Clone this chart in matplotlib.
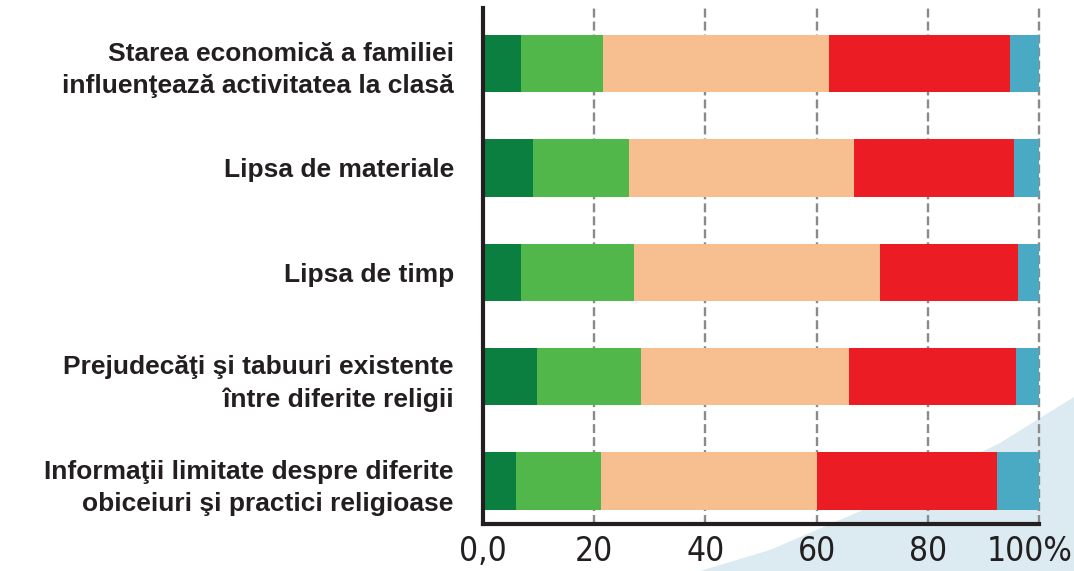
import matplotlib
matplotlib.use("Agg")
import matplotlib.pyplot as plt
import matplotlib.transforms as mtransforms
from matplotlib.patches import Polygon
import numpy as np

# Survey items (top to bottom)
categories = [
    "Starea economică a familiei\ninfluenţează activitatea la clasă",
    "Lipsa de materiale",
    "Lipsa de timp",
    "Prejudecăţi şi tabuuri existente\nîntre diferite religii",
    "Informaţii limitate despre diferite\nobiceiuri şi practici religioase",
]

# Share of answers per response level (%), one list per level
level_1 = [6.9, 9.0, 6.8, 9.8, 6.0]
level_2 = [14.7, 17.2, 20.3, 18.6, 15.2]
level_3 = [40.6, 40.6, 44.3, 37.5, 38.8]
level_4 = [32.5, 28.7, 24.8, 30.0, 32.5]
level_5 = [5.3, 4.5, 3.8, 4.1, 7.5]

x_ticks = [0, 20, 40, 60, 80, 100]
x_tick_labels = ["0,0", "20", "40", "60", "80", "100%"]

series = [level_1, level_2, level_3, level_4, level_5]
colors = ["#0A7F40", "#52B74A", "#F7BF8F", "#EC1C24", "#4AAAC4"]

W, H = 1074, 571
fig = plt.figure(figsize=(W / 100, H / 100), dpi=100)

# Light background swoosh in the lower right corner (figure pixel coords)
swoosh_px = [(700, 571), (770, 550), (870, 507), (1000, 443), (1074, 397), (1074, 571)]
swoosh = Polygon([(x / W, 1 - y / H) for x, y in swoosh_px], closed=True,
                 transform=fig.transFigure, facecolor="#DCEAF2", edgecolor="none",
                 zorder=-5)
fig.patches.append(swoosh)

left, right = 483 / W, 1039 / W
top, bottom = 1 - 8 / H, 1 - 524 / H
ax = fig.add_axes([left, bottom, right - left, top - bottom])
ax.set_facecolor("none")
ax.set_zorder(2)

y = np.arange(len(categories))
lefts = np.zeros(len(categories))
for vals, col in zip(series, colors):
    ax.barh(y, vals, left=lefts, height=0.55, color=col, edgecolor="none", zorder=3)
    lefts += np.array(vals)

ax.set_xlim(0, 100)
ax.set_ylim(4.41, -0.53)

for xv in x_ticks[1:]:
    ax.axvline(xv, color="#8A8A8A", lw=1.7, ls=(0, (3.8, 1.7)), zorder=1,
               clip_on=False)

ax.set_xticks(x_ticks)
ax.set_xticklabels(x_tick_labels, fontsize=24, fontstretch="condensed",
                   family=["DejaVu Sans"], color="#231F20")
ax.tick_params(axis="x", length=0, pad=8)
# keep the last label inside the canvas
last = ax.get_xticklabels()[-1]
last.set_transform(last.get_transform() +
                   mtransforms.ScaledTranslation(-9 / 100, 0, fig.dpi_scale_trans))

ax.set_yticks(y)
ax.set_yticklabels(categories, fontsize=19, fontweight="bold",
                   family=["Liberation Sans", "DejaVu Sans"], color="#231F20",
                   linespacing=1.45, ha="right")
ax.tick_params(axis="y", length=0, pad=21)

for side in ["top", "right"]:
    ax.spines[side].set_visible(False)
for side in ["left", "bottom"]:
    ax.spines[side].set_linewidth(3)
    ax.spines[side].set_color("#231F20")
    ax.spines[side].set_zorder(5)

fig.savefig("out.png", dpi=100)
